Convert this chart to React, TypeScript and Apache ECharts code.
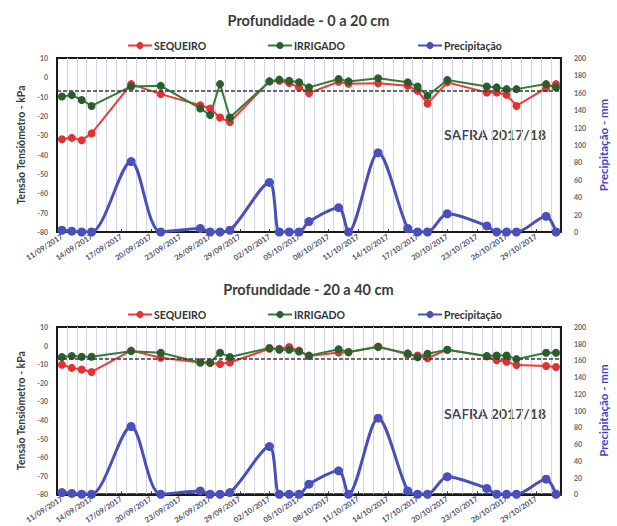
import React, { useEffect, useRef } from "react";
import * as echarts from "echarts";

const TITLES = ["Profundidade - 0 a 20 cm", "Profundidade - 20 a 40 cm"];
const SERIES_NAMES = ["SEQUEIRO", "IRRIGADO", "Precipitação"];
const LEFT_AXIS_NAME = "Tensão Tensiômetro - kPa";
const RIGHT_AXIS_NAME = "Precipitação - mm";
const SAFRA_LABEL = "SAFRA 2017/18";

// daily category axis bounds
const FIRST_DAY = [2017, 9, 11];
const LAST_DAY = [2017, 10, 31];

// reading dates
const READ_DATES = [
  "11/09/2017", "12/09/2017", "13/09/2017", "14/09/2017", "18/09/2017", "21/09/2017",
  "25/09/2017", "26/09/2017", "27/09/2017", "28/09/2017", "02/10/2017", "03/10/2017",
  "04/10/2017", "05/10/2017", "06/10/2017", "09/10/2017", "10/10/2017", "13/10/2017",
  "16/10/2017", "17/10/2017", "18/10/2017", "20/10/2017", "24/10/2017", "25/10/2017",
  "26/10/2017", "27/10/2017", "30/10/2017", "31/10/2017",
];

// 0 - 20 cm (kPa)
const SEQ_0_20 = [
  -32, -31.3, -32.5, -29, -3.5, -8.7, -14.4, -16.1, -20.8, -23.1, -2.1, -1.8,
  -3, -5.2, -8.2, -2.3, -3.3, -3.1, -4.4, -7, -13.6, -2.6, -7.8, -7.8,
  -9, -14.8, -5.6, -3.5,
];
const IRR_0_20 = [
  -9.9, -9.2, -11.7, -14.8, -4.7, -4.4, -16.1, -19.5, -3.5, -20.8, -2.1, -1.2,
  -1.8, -2.5, -5.2, -0.9, -2.1, -0.5, -2.6, -4.7, -9.6, -1.4, -4.7, -5.2,
  -6.1, -6.1, -3.5, -5.2,
];

// 20 - 40 cm (kPa)
const SEQ_20_40 = [
  -10.3, -12, -12.9, -14.2, -2.7, -6.5, -9.1, -9.4, -9.9, -9.1, -1.7, -1.7,
  -0.8, -2.7, -5.6, -3.7, -3.6, -0.5, -4.8, -5.3, -6.8, -2.2, -5.8, -7.9,
  -8.7, -10.5, -11, -11.5,
];
const IRR_20_40 = [
  -6.1, -5.6, -6, -6, -3, -3.9, -9.1, -9.1, -3.9, -6.1, -1.3, -2.2,
  -2.2, -3.2, -5.4, -2, -3.5, -0.8, -4.2, -6.3, -4.4, -2.2, -5.6, -5.3,
  -5.3, -7.3, -3.9, -3.9,
];

// precipitation (mm)
const PRECIP = [
  2, 1, 0, 0, 81, 0, 4, 0, 0, 2, 57, 0,
  0, 0, 12, 28, 0, 91, 4, 0, 0, 21, 7, 0,
  0, 0, 18, 0,
];

const THRESHOLD_KPA = -7;
const LEFT_MIN = -80, LEFT_MAX = 10, LEFT_STEP = 10;
const RIGHT_MIN = 0, RIGHT_MAX = 200, RIGHT_STEP = 20;

const COLORS = { seq: "#ee3a3a", seqDot: "#e23232", irr: "#2f7d36", irrDot: "#2b5d2d", pre: "#4a4fba" };
const FONT = "Lato";

function buildDays(): string[] {
  const out: string[] = [];
  const d = new Date(Date.UTC(FIRST_DAY[0], FIRST_DAY[1] - 1, FIRST_DAY[2]));
  const end = Date.UTC(LAST_DAY[0], LAST_DAY[1] - 1, LAST_DAY[2]);
  while (d.getTime() <= end) {
    const dd = String(d.getUTCDate()).padStart(2, "0");
    const mm = String(d.getUTCMonth() + 1).padStart(2, "0");
    out.push(`${dd}/${mm}/${d.getUTCFullYear()}`);
    d.setUTCDate(d.getUTCDate() + 1);
  }
  return out;
}

export default function App() {
  const ref = useRef<HTMLDivElement>(null);
  useEffect(() => {
    if (!ref.current) return;
    const chart = echarts.init(ref.current, null, { renderer: "svg" });
    const days = buildDays();
    const OFFSET = 269;
    const gridTop = 58;
    const gridH = 174;

    const pairs = (vals: number[]) => READ_DATES.map((d, i) => [d, vals[i]]);

    const xAxes = [0, 1].map((g) => ({
      type: "category",
      gridIndex: g,
      data: days,
      boundaryGap: true,
      axisLine: { onZero: false, lineStyle: { color: "#1a1a1a", width: 2 } },
      axisTick: { show: true, interval: 2, alignWithLabel: true, inside: true, length: 3, lineStyle: { color: "#333" } },
      axisLabel: { interval: 2, rotate: 33, fontSize: 7.5, fontWeight: "bold", color: "#4a4e6c", margin: 4, fontFamily: FONT },
      splitLine: { show: true, interval: 0, lineStyle: { color: "#d0d4e6", width: 1 } },
    }));

    const yAxes: any[] = [];
    [0, 1].forEach((g) => {
      yAxes.push({
        type: "value",
        gridIndex: g,
        min: LEFT_MIN,
        max: LEFT_MAX,
        interval: LEFT_STEP,
        position: "left",
        axisLine: { show: true, onZero: false, lineStyle: { color: "#1a1a1a", width: 2 } },
        axisTick: { show: false },
        axisLabel: { fontSize: 7, fontWeight: "bold", color: "#666", margin: 9, fontFamily: FONT },
        splitLine: { show: false },
        name: LEFT_AXIS_NAME,
        nameLocation: "middle",
        nameRotate: 90,
        nameGap: 29,
        nameTextStyle: { fontSize: 10.5, fontWeight: "bold", color: "#3a3a3a", fontFamily: FONT },
      });
      yAxes.push({
        type: "value",
        gridIndex: g,
        min: RIGHT_MIN,
        max: RIGHT_MAX,
        interval: RIGHT_STEP,
        position: "right",
        axisLine: { show: true, onZero: false, lineStyle: { color: "#1a1a1a", width: 2 } },
        axisTick: { show: false },
        axisLabel: { fontSize: 7, fontWeight: "bold", color: "#666", margin: 13, fontFamily: FONT },
        splitLine: { show: false },
        name: RIGHT_AXIS_NAME,
        nameLocation: "middle",
        nameRotate: 90,
        nameGap: 28,
        nameTextStyle: { fontSize: 11.5, fontWeight: "bold", color: "#3d45c4", fontFamily: FONT },
      });
    });

    const seqData = [SEQ_0_20, SEQ_20_40];
    const irrData = [IRR_0_20, IRR_20_40];
    const series: any[] = [];
    [0, 1].forEach((g) => {
      series.push({
        name: SERIES_NAMES[0],
        type: "line",
        xAxisIndex: g,
        yAxisIndex: g * 2,
        data: pairs(seqData[g]),
        symbol: "circle",
        symbolSize: 8,
        showAllSymbol: true,
        lineStyle: { color: COLORS.seq, width: 2 },
        itemStyle: { color: COLORS.seqDot },
        markLine: {
          silent: true,
          symbol: "none",
          label: { show: false },
          lineStyle: { color: "#3a3a3a", type: [4, 2], width: 1.5 },
          data: [{ yAxis: THRESHOLD_KPA }],
        },
      });
      series.push({
        name: SERIES_NAMES[1],
        type: "line",
        xAxisIndex: g,
        yAxisIndex: g * 2,
        data: pairs(irrData[g]),
        symbol: "circle",
        symbolSize: 8,
        showAllSymbol: true,
        lineStyle: { color: COLORS.irr, width: 2 },
        itemStyle: { color: COLORS.irrDot },
      });
      series.push({
        name: SERIES_NAMES[2],
        type: "line",
        xAxisIndex: g,
        yAxisIndex: g * 2 + 1,
        data: pairs(PRECIP),
        smooth: 0.3,
        symbol: "circle",
        symbolSize: 9,
        showAllSymbol: true,
        lineStyle: { color: COLORS.pre, width: 3 },
        itemStyle: { color: COLORS.pre },
      });
    });

    const legendX = [122, 262, 412];
    const legends: any[] = [];
    [0, 1].forEach((g) => {
      SERIES_NAMES.forEach((n, i) => {
        legends.push({
          data: [n],
          left: legendX[i],
          top: 35 + g * OFFSET,
          itemWidth: 24,
          itemHeight: 9,
          itemGap: 0,
          textStyle: { fontSize: 10.5, fontWeight: "bold", color: "#333", fontFamily: FONT, padding: [0, 0, 0, -3] },
        });
      });
    });

    chart.setOption({
      animation: false,
      backgroundColor: "#ffffff",
      textStyle: { fontFamily: FONT },
      title: TITLES.map((t, g) => ({
        text: t,
        left: "center",
        top: 8 + g * OFFSET,
        textStyle: { fontSize: 14.5, fontWeight: "bold", color: "#3b3b3b", fontFamily: FONT },
      })),
      legend: legends,
      grid: [0, 1].map((g) => ({
        left: 57,
        top: gridTop + g * OFFSET,
        width: 516,
        height: gridH,
        show: true,
        borderColor: "#1a1a1a",
        borderWidth: 2,
        backgroundColor: "transparent",
      })),
      xAxis: xAxes,
      yAxis: yAxes,
      series,
      graphic: [
        { type: "text", left: 444, top: 127, style: { text: SAFRA_LABEL, font: "bold 14px Lato", fill: "#474747" } },
        { type: "text", left: 444, top: 406, style: { text: SAFRA_LABEL, font: "bold 14px Lato", fill: "#474747" } },
      ],
    });
    return () => chart.dispose();
  }, []);
  return <div ref={ref} style={{ position: "fixed", left: 0, top: 0, width: 617, height: 526 }} />;
}
